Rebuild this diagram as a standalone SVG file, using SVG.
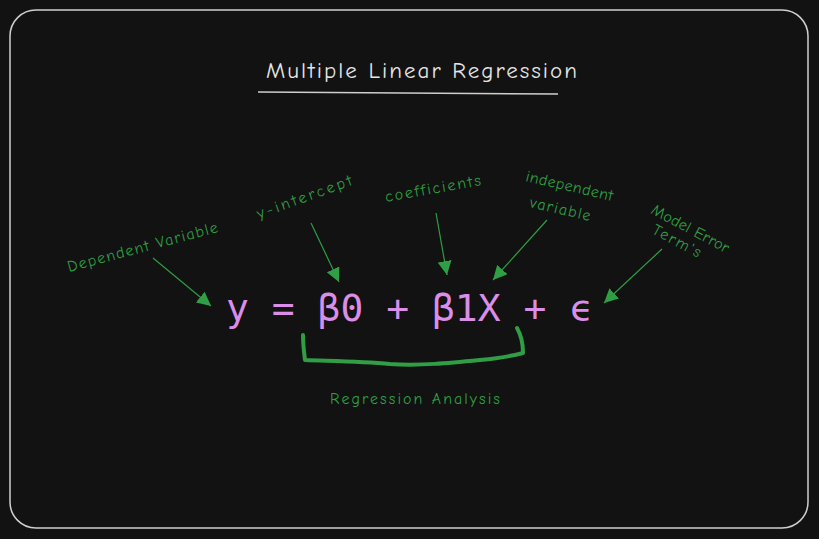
<svg xmlns="http://www.w3.org/2000/svg" width="819" height="539" viewBox="0 0 819 539">
<defs>
<marker id="ah" viewBox="0 0 10 10" refX="10" refY="5" markerWidth="14" markerHeight="14" markerUnits="userSpaceOnUse" orient="auto">
<path d="M0,0 L10,5 L0,10 Z" fill="#2f9e44"/>
</marker>
<style>
.hand{font-family:"Comic Neue","Liberation Sans","DejaVu Sans",sans-serif}
.lbl{font-family:"Comic Neue","Liberation Sans","DejaVu Sans",sans-serif;fill:#2f9e44;font-size:16px}
.conn{stroke:#2f9e44;stroke-width:1.2;fill:none;marker-end:url(#ah)}
.eq{font-family:"DejaVu Sans Mono","Liberation Mono",monospace;fill:#da8ee7;font-size:38px}
</style>
</defs>
<rect x="0" y="0" width="819" height="539" fill="#121212"/>
<rect x="10" y="10" width="798" height="518" rx="26" ry="26" fill="none" stroke="#cfcfcf" stroke-width="1.5"/>
<g id="title">
<text class="hand" x="266" y="78" textLength="311" font-size="23" fill="#e6e6e6">Multiple Linear Regression</text>
<path d="M258,92 L558,94" stroke="#cfcfcf" stroke-width="1.5" fill="none"/>
</g>
<g id="equation">
<text class="eq" x="226" y="321">y = β0 + β1X + ϵ</text>
</g>
<g id="brace">
<path d="M303,335 C303,345 304,352 305,360 C330,361 360,361 390,364 C420,366 450,363 480,360 C500,358 512,356 523,353 C523,343 521,335 517,328" stroke="#2f9e44" stroke-width="4" fill="none" stroke-linecap="round" stroke-linejoin="round"/>
</g>
<g id="lbl-dependent"><text class="lbl" transform="translate(69,272) rotate(-15)" textLength="155">Dependent Variable</text></g>
<g id="lbl-intercept"><text class="lbl" transform="translate(259,219) rotate(-20)" textLength="100">y-intercept</text></g>
<g id="lbl-coeff"><text class="lbl" transform="translate(386,202) rotate(-10)" textLength="97">coefficients</text></g>
<g id="lbl-independent"><text class="lbl" transform="translate(525,181) rotate(13)" textLength="89">independent</text><text class="lbl" transform="translate(529,207) rotate(13)" textLength="62">variable</text></g>
<g id="lbl-error"><text class="lbl" transform="translate(650,213) rotate(28)" textLength="86">Model Error</text><text class="lbl" transform="translate(651,233) rotate(28)" textLength="53">Term's</text></g>
<g id="lbl-regression"><text class="lbl" x="330" y="404" textLength="170">Regression Analysis</text></g>
<g id="connectors">
<path class="conn" d="M153,258 L211,306"/>
<path class="conn" d="M311,223 L339,282"/>
<path class="conn" d="M436,213 L447,275"/>
<path class="conn" d="M547,220 L493,280"/>
<path class="conn" d="M662,249 L604,303"/>
</g>
</svg>
